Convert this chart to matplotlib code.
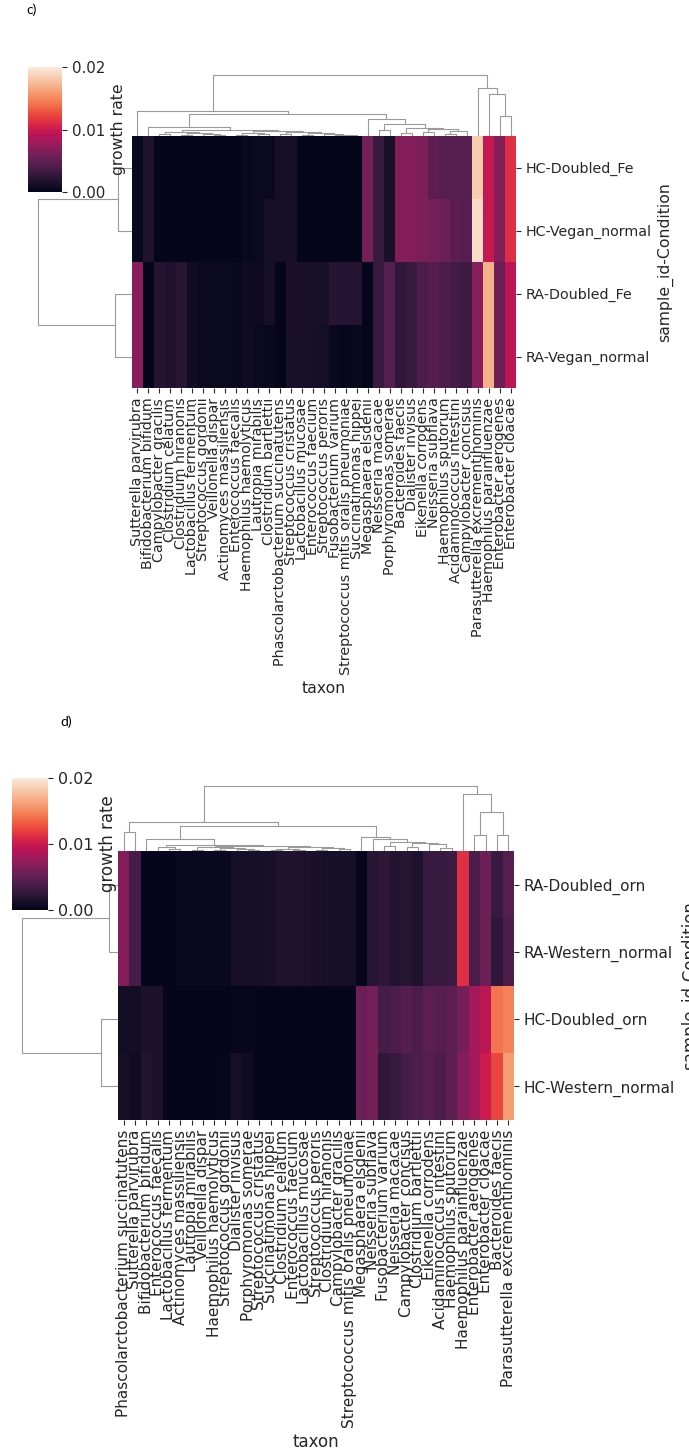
import numpy as np
import matplotlib
matplotlib.use("Agg")
import matplotlib.pyplot as plt
from matplotlib.ticker import FormatStrFormatter
import seaborn as sns

# ============================================================
# DATA  (panel c)
# ============================================================

taxa_c = [
    "Sutterella parvirubra", "Bifidobacterium bifidum", "Campylobacter gracilis",
    "Clostridium celatum", "Clostridium hiranonis", "Lactobacillus fermentum",
    "Streptococcus gordonii", "Veillonella dispar", "Actinomyces massiliensis",
    "Enterococcus faecalis", "Haemophilus haemolyticus", "Lautropia mirabilis",
    "Clostridium bartlettii", "Phascolarctobacterium succinatutens",
    "Streptococcus cristatus", "Lactobacillus mucosae", "Enterococcus faecium",
    "Streptococcus peroris", "Fusobacterium varium",
    "Streptococcus mitis oralis pneumoniae", "Succinatimonas hippei",
    "Megasphaera elsdenii", "Neisseria macacae", "Porphyromonas somerae",
    "Bacteroides faecis", "Dialister invisus", "Eikenella corrodens",
    "Neisseria subflava", "Haemophilus sputorum", "Acidaminococcus intestini",
    "Campylobacter concisus", "Parasutterella excrementihominis",
    "Haemophilus parainfluenzae", "Enterobacter aerogenes", "Enterobacter cloacae",
]
samples_c = ["HC-Doubled_Fe", "HC-Vegan_normal", "RA-Doubled_Fe", "RA-Vegan_normal"]

hc_doubled_fe = [0.0004, 0.0016, 0.0002, 0.0002, 0.0002, 0.0002, 0.0002, 0.0002, 0.0002,
                 0.0002, 0.0004, 0.0005, 0.0005, 0.0012, 0.0012, 0.0002, 0.0002, 0.0002,
                 0.0002, 0.0002, 0.0002, 0.0060, 0.0030, 0.0014, 0.0067, 0.0065, 0.0063,
                 0.0048, 0.0045, 0.0045, 0.0045, 0.0183, 0.0097, 0.0067, 0.0113]
hc_vegan_normal = [0.0004, 0.0016, 0.0002, 0.0002, 0.0002, 0.0002, 0.0002, 0.0002, 0.0002,
                   0.0002, 0.0004, 0.0005, 0.0012, 0.0012, 0.0012, 0.0002, 0.0002, 0.0002,
                   0.0002, 0.0002, 0.0002, 0.0060, 0.0030, 0.0014, 0.0067, 0.0065, 0.0063,
                   0.0060, 0.0055, 0.0048, 0.0045, 0.0192, 0.0097, 0.0067, 0.0113]
ra_doubled_fe = [0.0068, 0.0002, 0.0019, 0.0017, 0.0021, 0.0009, 0.0006, 0.0005, 0.0005,
                 0.0004, 0.0008, 0.0007, 0.0012, 0.0002, 0.0014, 0.0014, 0.0013, 0.0013,
                 0.0020, 0.0020, 0.0020, 0.0002, 0.0030, 0.0044, 0.0025, 0.0030, 0.0040,
                 0.0044, 0.0040, 0.0036, 0.0032, 0.0068, 0.0170, 0.0055, 0.0093]
ra_vegan_normal = [0.0068, 0.0002, 0.0019, 0.0017, 0.0021, 0.0009, 0.0006, 0.0005, 0.0005,
                   0.0004, 0.0008, 0.0006, 0.0004, 0.0002, 0.0014, 0.0013, 0.0012, 0.0011,
                   0.0006, 0.0003, 0.0004, 0.0002, 0.0030, 0.0044, 0.0025, 0.0030, 0.0040,
                   0.0044, 0.0040, 0.0036, 0.0032, 0.0068, 0.0170, 0.0055, 0.0093]

# dendrograms as (left, right, merge distance); ints are leaf positions
c_a1 = ((2, 3, 2), ((4, 5, 1.5), (6, (7, 8, 1), 2), 3), 4)
c_a2 = (((9, 10, 1.5), (11, 12, 2.5), 3.5),
        ((13, 14, 2), ((15, 16, 1), (17, (18, (19, 20, 0.8), 1.2), 2), 3), 4.5), 5)
c_b = (21, ((22, 23, 6), ((24, 25, 3), ((26, 27, 4), ((28, 29, 2.5), 30, 5), 7), 8), 12), 17)
c_left = (0, ((1, (c_a1, c_a2, 6), 9), c_b, 22), 25)
c_right = (31, (32, (33, 34, 20), 42), 48)
col_tree_c = (c_left, c_right, 61)
row_tree_c = ((0, 1, 14), (2, 3, 17), 94)

# ============================================================
# DATA  (panel d)
# ============================================================

taxa_d = [
    "Phascolarctobacterium succinatutens", "Sutterella parvirubra",
    "Bifidobacterium bifidum", "Enterococcus faecalis", "Lactobacillus fermentum",
    "Actinomyces massiliensis", "Lautropia mirabilis", "Veillonella dispar",
    "Haemophilus haemolyticus", "Streptococcus gordonii", "Dialister invisus",
    "Porphyromonas somerae", "Streptococcus cristatus", "Succinatimonas hippei",
    "Clostridium celatum", "Enterococcus faecium", "Lactobacillus mucosae",
    "Streptococcus peroris", "Clostridium hiranonis", "Campylobacter gracilis",
    "Streptococcus mitis oralis pneumoniae", "Megasphaera elsdenii",
    "Neisseria subflava", "Fusobacterium varium", "Neisseria macacae",
    "Campylobacter concisus", "Clostridium bartlettii", "Eikenella corrodens",
    "Acidaminococcus intestini", "Haemophilus sputorum",
    "Haemophilus parainfluenzae", "Enterobacter aerogenes", "Enterobacter cloacae",
    "Bacteroides faecis", "Parasutterella excrementihominis",
]
samples_d = ["RA-Doubled_orn", "RA-Western_normal", "HC-Doubled_orn", "HC-Western_normal"]

ra_doubled_orn = [0.0067, 0.0037, 0.0002, 0.0002, 0.0002, 0.0004, 0.0004, 0.0004, 0.0004,
                  0.0005, 0.0012, 0.0012, 0.0012, 0.0013, 0.0016, 0.0016, 0.0015, 0.0014,
                  0.0012, 0.0012, 0.0012, 0.0002, 0.0021, 0.0025, 0.0018, 0.0021, 0.0015,
                  0.0030, 0.0030, 0.0032, 0.0113, 0.0040, 0.0055, 0.0030, 0.0045]
ra_western_normal = [0.0067, 0.0037, 0.0002, 0.0002, 0.0002, 0.0004, 0.0004, 0.0004, 0.0004,
                     0.0005, 0.0012, 0.0012, 0.0012, 0.0013, 0.0016, 0.0016, 0.0015, 0.0014,
                     0.0012, 0.0012, 0.0012, 0.0002, 0.0021, 0.0025, 0.0018, 0.0021, 0.0015,
                     0.0030, 0.0030, 0.0032, 0.0113, 0.0040, 0.0055, 0.0025, 0.0040]
hc_doubled_orn = [0.0010, 0.0010, 0.0015, 0.0015, 0.0002, 0.0002, 0.0002, 0.0002, 0.0002,
                  0.0002, 0.0003, 0.0003, 0.0002, 0.0002, 0.0002, 0.0002, 0.0002, 0.0002,
                  0.0002, 0.0002, 0.0002, 0.0055, 0.0060, 0.0037, 0.0040, 0.0045, 0.0040,
                  0.0048, 0.0045, 0.0048, 0.0060, 0.0082, 0.0093, 0.0142, 0.0147]
hc_western_normal = [0.0012, 0.0008, 0.0018, 0.0015, 0.0002, 0.0002, 0.0002, 0.0002, 0.0002,
                     0.0003, 0.0012, 0.0008, 0.0002, 0.0002, 0.0002, 0.0002, 0.0002, 0.0002,
                     0.0002, 0.0002, 0.0002, 0.0055, 0.0060, 0.0025, 0.0030, 0.0037, 0.0040,
                     0.0045, 0.0040, 0.0048, 0.0067, 0.0082, 0.0100, 0.0122, 0.0160]

d_w1 = ((6, 7, 1.5), ((8, 9, 1), (10, (11, 12, 1.2), 2), 3), 4)
d_w2 = (((13, 14, 1), (15, 16, 1.5), 2.5), ((17, 18, 1.2), (19, 20, 2), 3), 4)
d_x1 = (2, ((3, (4, 5, 2), 4), (d_w1, d_w2, 5), 6), 12)
d_z = ((23, 24, 5), ((25, 26, 4), (27, (28, 29, 3), 7), 8), 9.3)
d_x2 = (21, (22, d_z, 12), 14)
d_left = ((0, 1, 19), (d_x1, d_x2, 25), 29)
d_right = (30, ((31, 32, 16), (33, 34, 16), 38.7), 57)
col_tree_d = (d_left, d_right, 65)
row_tree_d = ((0, 1, 9), (2, 3, 17), 96)

# ============================================================
# FIGURE
# ============================================================

W, H = 689, 1450
plt.rcParams["font.family"] = ["DejaVu Sans"]
for key in ["text.color", "axes.labelcolor", "xtick.color", "ytick.color"]:
    plt.rcParams[key] = "0.15"

cmap = sns.color_palette("rocket", as_cmap=True)
fig = plt.figure(figsize=(W / 100, H / 100), dpi=100)


def px_axes(x0, y0, x1, y1):
    return fig.add_axes([x0 / W, 1 - y1 / H, (x1 - x0) / W, (y1 - y0) / H])


def tree_segments(node, out):
    if isinstance(node, int):
        return node + 0.5, 0.0
    left, right, h = node
    xl, hl = tree_segments(left, out)
    xr, hr = tree_segments(right, out)
    out.append(([xl, xl, xr, xr], [hl, h, h, hr]))
    return (xl + xr) / 2, h


def panel(rows, taxa, samples, col_tree, row_tree, heat_box, col_box, row_box,
          cbar_box, fs_tick, fs_label):
    data = np.array(rows)
    m, n = data.shape

    ax = px_axes(*heat_box)
    mesh = ax.pcolormesh(np.arange(n + 1), np.arange(m + 1), data, cmap=cmap,
                         vmin=0, vmax=0.02, linewidth=0, antialiased=False)
    ax.set_xlim(0, n)
    ax.set_ylim(m, 0)
    ax.set_xticks(np.arange(n) + 0.5)
    ax.set_xticklabels(taxa, rotation=90, fontsize=fs_tick)
    ax.yaxis.tick_right()
    ax.set_yticks(np.arange(m) + 0.5)
    ax.set_yticklabels(samples, fontsize=fs_tick)
    ax.yaxis.set_label_position("right")
    ax.set_ylabel("sample_id-Condition", fontsize=fs_label)
    ax.set_xlabel("taxon", fontsize=fs_label)
    for s in ax.spines.values():
        s.set_visible(False)

    # column dendrogram
    axc = px_axes(*col_box)
    segs = []
    _, top = tree_segments(col_tree, segs)
    for xs, hs in segs:
        axc.plot(xs, hs, color="#9a9a9a", lw=0.8)
    axc.set_xlim(0, n)
    axc.set_ylim(0, top * 1.05)
    axc.axis("off")

    # row dendrogram
    axr = px_axes(*row_box)
    segs = []
    _, top = tree_segments(row_tree, segs)
    for ys, hs in segs:
        axr.plot(hs, ys, color="#9a9a9a", lw=0.8)
    axr.set_ylim(m, 0)
    axr.set_xlim(top * 1.05, 0)
    axr.axis("off")

    # colorbar
    cax = px_axes(*cbar_box)
    cb = fig.colorbar(mesh, cax=cax, ticks=[0, 0.01, 0.02])
    cb.outline.set_visible(False)
    cb.ax.yaxis.set_major_formatter(FormatStrFormatter("%.2f"))
    cb.ax.tick_params(labelsize=fs_tick * 1.05)
    cb.set_label("growth rate", fontsize=fs_label)


panel([hc_doubled_fe, hc_vegan_normal, ra_doubled_fe, ra_vegan_normal],
      taxa_c, samples_c, col_tree_c, row_tree_c,
      heat_box=(132, 136, 516, 388), col_box=(132, 72, 516, 136),
      row_box=(33, 136, 132, 388), cbar_box=(28, 67, 62, 192),
      fs_tick=10.3, fs_label=11.3)

panel([ra_doubled_orn, ra_western_normal, hc_doubled_orn, hc_western_normal],
      taxa_d, samples_d, col_tree_d, row_tree_d,
      heat_box=(118, 851, 514, 1120), col_box=(118, 783, 514, 851),
      row_box=(17, 851, 118, 1120), cbar_box=(12, 778, 48, 910),
      fs_tick=11.0, fs_label=12.0)

fig.text(32 / W, 1 - 10 / H, "c)", fontsize=10, family="Lato",
         color="black", ha="center", va="center")
fig.text(66 / W, 1 - 722 / H, "d)", fontsize=10, family="Lato",
         color="black", ha="center", va="center")

fig.savefig("out.png", dpi=100)
